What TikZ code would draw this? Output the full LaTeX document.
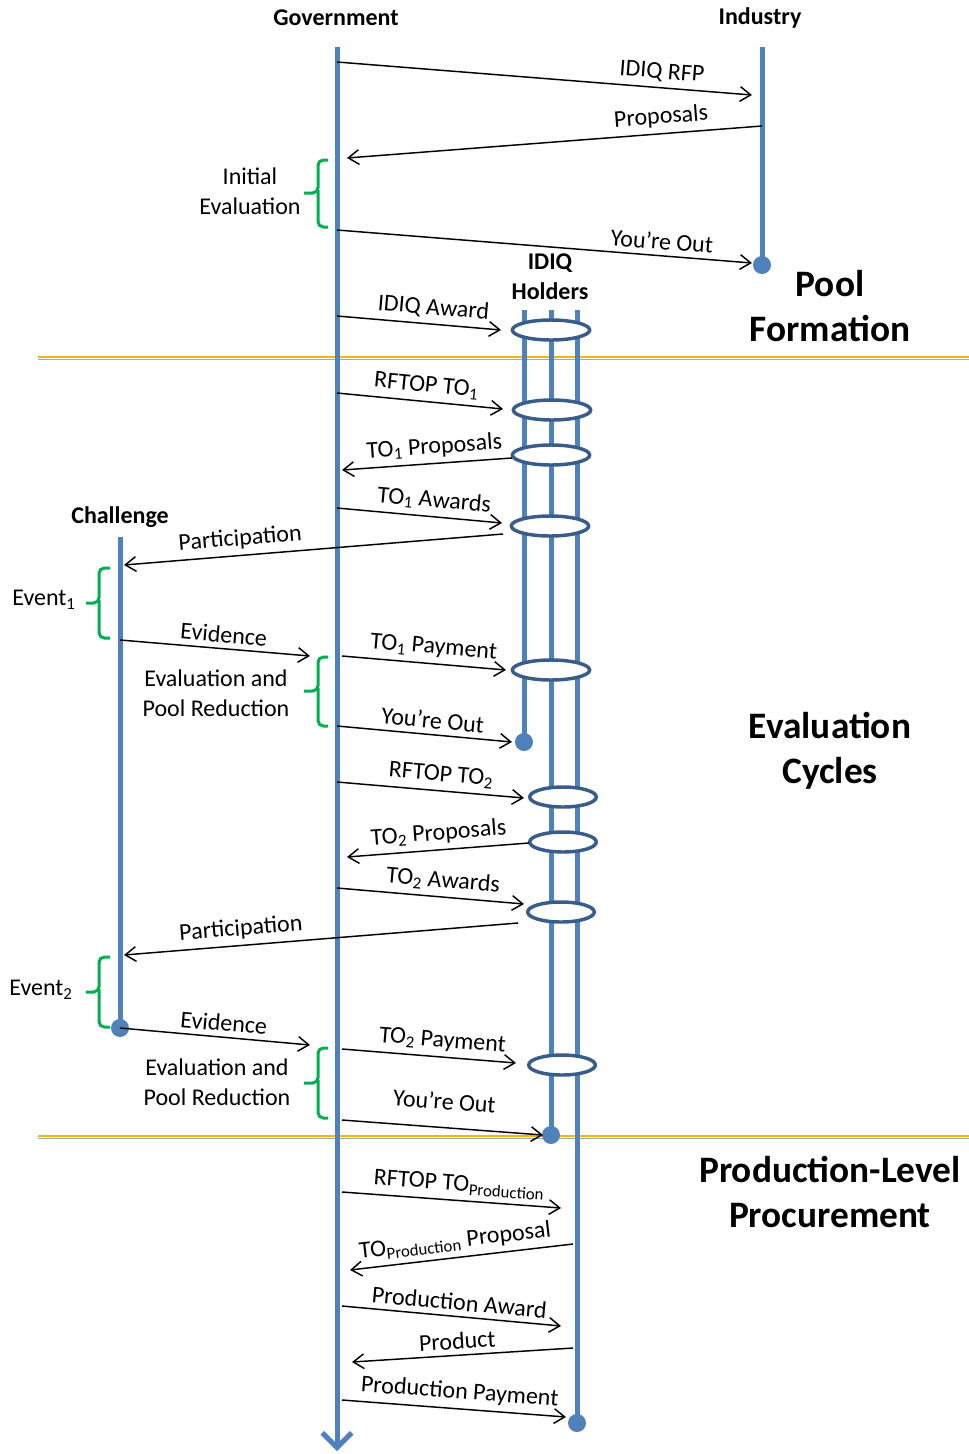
\documentclass[tikz,border=0pt]{standalone}
\usepackage{fontspec}
\setmainfont{Carlito}
\usetikzlibrary{arrows.meta,shapes.geometric}
\definecolor{lane}{HTML}{4F81BD}
\definecolor{ring}{HTML}{385D8A}
\definecolor{brc}{HTML}{00B050}
\definecolor{gold}{HTML}{F2B705}
\definecolor{sepgray}{HTML}{A6A6A6}
\begin{document}
\begin{tikzpicture}[x=0.75pt,y=-0.75pt,
  lanel/.style={draw=lane,line width=3.75pt},
  govl/.style={draw=lane,line width=3.75pt,-{Straight Barb[length=11pt,width=22pt]}},
  ring/.style={ellipse,draw=ring,line width=2.6pt,fill=white,minimum width=58pt,minimum height=15pt,inner sep=0pt},
  ringtwo/.style={ring,minimum width=50pt},
  dot/.style={circle,fill=lane,minimum size=13.5pt,inner sep=0pt},
  msg/.style={draw=black,line width=1.1pt,-{Straight Barb[length=8pt,width=11pt]}},
  lab/.style={sloped,above=2.5pt,inner sep=1.5pt,font=\fontsize{18}{22}\selectfont},
  txt/.style={align=center,inner sep=0pt,font=\fontsize{18}{22.5}\selectfont},
  head/.style={align=center,inner sep=0pt,font=\bfseries\fontsize{18}{22.5}\selectfont},
  big/.style={align=center,inner sep=0pt,font=\bfseries\fontsize{28}{34}\selectfont},
  brace/.style={draw=brc,line width=2.25pt,rounded corners=4pt},
  sepg/.style={draw=gold,line width=1.2pt},
  sepb/.style={draw=sepgray,line width=1pt}]
\useasboundingbox (0,0) rectangle (969,1454);

% separators
\coordinate (s1a) at (38,357); \coordinate (s1b) at (969,357);
\coordinate (s1c) at (38,359.5); \coordinate (s1d) at (969,359.5);
\coordinate (s2a) at (38,1136); \coordinate (s2b) at (969,1136);
\coordinate (s2c) at (38,1138.5); \coordinate (s2d) at (969,1138.5);
\draw[sepb] (s1c) -- (s1d);
\draw[sepg] (s1a) -- (s1b);
\draw[sepb] (s2c) -- (s2d);
\draw[sepg] (s2a) -- (s2b);

% lanes
\coordinate (govtop) at (337,47); \coordinate (govbot) at (337,1451);
\coordinate (indtop) at (762,47);
\coordinate (hltop) at (524,310); \coordinate (hmtop) at (551,310); \coordinate (hrtop) at (577,310);
\coordinate (chtop) at (120,537);
\node[dot] (inddot) at (762,265) {};
\node[dot] (hldot) at (524,742) {};
\node[dot] (hmdot) at (551,1135) {};
\node[dot] (hrdot) at (577,1423) {};
\node[dot] (chdot) at (120,1028) {};
\draw[govl] (govtop) -- (govbot);
\draw[lanel] (indtop) -- (inddot.center);
\draw[lanel] (hltop) -- (hldot.center);
\draw[lanel] (hmtop) -- (hmdot.center);
\draw[lanel] (hrtop) -- (hrdot.center);
\draw[lanel] (chtop) -- (chdot.center);

% rings
\node[ring] (r1) at (551,330) {};
\node[ring] (r2) at (552,410) {};
\node[ring] (r3) at (551,455) {};
\node[ring] (r4) at (550,526) {};
\node[ring] (r5) at (551,670) {};
\node[ringtwo] (r6) at (563,797) {};
\node[ringtwo] (r7) at (563,842) {};
\node[ringtwo] (r8) at (561,912) {};
\node[ringtwo] (r9) at (562,1065) {};

% message end points
\coordinate (g1) at (337,62);   \coordinate (i1) at (752,95);
\coordinate (i2) at (762,126);  \coordinate (g2) at (347,158);
\coordinate (g3) at (337,230);  \coordinate (i3) at (752,263);
\coordinate (g4) at (337,316);  \coordinate (h4) at (501,330);
\coordinate (g5) at (337,393);  \coordinate (h5) at (503,409);
\coordinate (h6) at (512,458);  \coordinate (g6) at (342,470);
\coordinate (g7) at (337,508);  \coordinate (h7) at (502,523);
\coordinate (h8) at (503,534);  \coordinate (c8) at (124,565);
\coordinate (c9) at (120,640);  \coordinate (g9) at (310,656);
\coordinate (g10) at (342,656); \coordinate (h10) at (506,670);
\coordinate (g11) at (337,726); \coordinate (h11) at (512,742);
\coordinate (g12) at (337,782); \coordinate (h12) at (524,798);
\coordinate (h13) at (529,843); \coordinate (g13) at (347,857);
\coordinate (g14) at (337,888); \coordinate (h14) at (524,904);
\coordinate (h15) at (518,923); \coordinate (c15) at (124,955);
\coordinate (c16) at (120,1028);\coordinate (g16) at (310,1045);
\coordinate (g17) at (342,1049);\coordinate (h17) at (516,1063);
\coordinate (g18) at (342,1120);\coordinate (h18) at (543,1135);
\coordinate (g19) at (342,1192);\coordinate (h19) at (561,1208);
\coordinate (h20) at (573,1244);\coordinate (g20) at (350,1270);
\coordinate (g21) at (342,1306);\coordinate (h21) at (561,1326);
\coordinate (h22) at (573,1348);\coordinate (g22) at (352,1362);
\coordinate (g23) at (342,1400);\coordinate (h23) at (566,1417);

\draw[msg] (g1) -- node[lab,pos=.78]{IDIQ RFP} (i1);
\draw[msg] (i2) -- node[lab,pos=.24]{Proposals} (g2);
\draw[msg] (g3) -- node[lab,pos=.78]{You’re Out} (i3);
\draw[msg] (g4) -- node[lab,pos=.58]{IDIQ Award} (h4);
\draw[msg] (g5) -- node[lab,pos=.53]{RFTOP TO\textsubscript{1}} (h5);
\draw[msg] (h6) -- node[lab,pos=.45]{TO\textsubscript{1} Proposals} (g6);
\draw[msg] (g7) -- node[lab,pos=.58]{TO\textsubscript{1} Awards} (h7);
\draw[msg] (h8) -- node[lab,pos=.69]{Participation} (c8);
\draw[msg] (c9) -- node[lab,pos=.54]{Evidence} (g9);
\draw[msg] (g10) -- node[lab,pos=.55]{TO\textsubscript{1} Payment} (h10);
\draw[msg] (g11) -- node[lab,pos=.54]{You’re Out} (h11);
\draw[msg] (g12) -- node[lab,pos=.55]{RFTOP TO\textsubscript{2}} (h12);
\draw[msg] (h13) -- node[lab,pos=.49]{TO\textsubscript{2} Proposals} (g13);
\draw[msg] (g14) -- node[lab,pos=.56]{TO\textsubscript{2} Awards} (h14);
\draw[msg] (h15) -- node[lab,pos=.70]{Participation} (c15);
\draw[msg] (c16) -- node[lab,pos=.54]{Evidence} (g16);
\draw[msg] (g17) -- node[lab,pos=.57]{TO\textsubscript{2} Payment} (h17);
\draw[msg] (g18) -- node[lab,pos=.5,above=9pt]{You’re Out} (h18);
\draw[msg] (g19) -- node[lab,pos=.53]{RFTOP TO\textsubscript{Production}} (h19);
\draw[msg] (h20) -- node[lab,pos=.52]{TO\textsubscript{Production} Proposal} (g20);
\draw[msg] (g21) -- node[lab,pos=.53]{Production Award} (h21);
\draw[msg] (h22) -- node[lab,pos=.52]{Product} (g22);
\draw[msg] (g23) -- node[lab,pos=.52]{Production Payment} (h23);

% braces
\draw[brace] (328,160) -- (318,160) -- (318,193) -- (304,193);
\draw[brace] (318,190) -- (318,227) -- (328,227);
\draw[brace] (110,568) -- (99,568) -- (99,603) -- (86,603);
\draw[brace] (99,600) -- (99,638) -- (110,638);
\draw[brace] (328,657) -- (318,657) -- (318,691) -- (304,691);
\draw[brace] (318,688) -- (318,726) -- (328,726);
\draw[brace] (110,957) -- (99,957) -- (99,992) -- (86,992);
\draw[brace] (99,989) -- (99,1027) -- (110,1027);
\draw[brace] (328,1048) -- (318,1048) -- (318,1083) -- (304,1083);
\draw[brace] (318,1080) -- (318,1118) -- (328,1118);

% texts
\node[txt] (tinit) at (250,191) {Initial\\Evaluation};
\node[txt] (tev1) at (44,600) {Event\textsubscript{1}};
\node[txt] (tepr1) at (216,693) {Evaluation and\\Pool Reduction};
\node[txt] (tev2) at (41,990) {Event\textsubscript{2}};
\node[txt] (tepr2) at (217,1082) {Evaluation and\\Pool Reduction};

\node[head] (hgov) at (336,18) {Government};
\node[head] (hind) at (760,18) {Industry};
\node[head] (hidiq) at (550,277) {IDIQ\\Holders};
\node[head] (hch) at (120,517) {Challenge};

\node[big] (bpool) at (830,306) {Pool\\Formation};
\node[big] (beval) at (830,751) {Evaluation\\Cycles};
\node[big] (bprod) at (830,1192) {Production-Level\\Procurement};
\end{tikzpicture}
\end{document}
